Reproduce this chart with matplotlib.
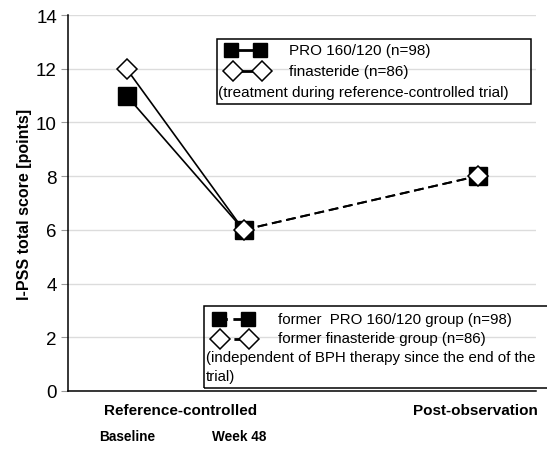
import matplotlib.pyplot as plt
from matplotlib.lines import Line2D
from matplotlib.patches import Rectangle
from matplotlib.transforms import blended_transform_factory

plt.rcParams['font.family'] = ['Liberation Sans', 'DejaVu Sans']

# time points: baseline, week 48, post-observation
x_trial = [0, 1]
x_post = [1, 3]
pro_trial = [11, 6]
fin_trial = [12, 6]
pro_post = [6, 8]
fin_post = [6, 8]

time_labels = ['Baseline', 'Week 48']
time_x = [0.01, 0.96]
phase_labels = ['Reference-controlled', 'Post-observation']
phase_x = [0.46, 2.98]

W, H = 547, 452
fig = plt.figure(figsize=(W / 100, H / 100), dpi=100)
ax = fig.add_axes([68 / W, 1 - 392 / H, 468 / W, 376 / H])

ax.set_xlim(-0.5, 3.5)
ax.set_ylim(0, 14)
ax.set_yticks(range(0, 15, 2))
ax.tick_params(axis='y', labelsize=13.5, length=5, color='#999999', pad=3)
ax.set_xticks([])
ax.grid(axis='y', color='#dcdcdc', lw=1)
ax.set_axisbelow(True)
for s in ['top', 'right']:
    ax.spines[s].set_visible(False)
ax.spines['left'].set_linewidth(1.1)
ax.spines['bottom'].set_linewidth(1.1)
ax.set_ylabel('I-PSS total score [points]', fontsize=11.5, fontweight='bold', labelpad=3)

# lines
ax.plot(x_trial, pro_trial, color='black', lw=1.2, zorder=3)
ax.plot(x_trial, fin_trial, color='black', lw=1.2, zorder=3)
ax.plot(x_post, pro_post, color='black', lw=1.4, ls=(0, (5, 2.5)), zorder=3)
ax.plot(x_post, fin_post, color='black', lw=1.4, ls=(0, (5, 2.5)), zorder=3)
# markers
ax.plot(x_trial + x_post[1:], pro_trial + pro_post[1:], ls='none', marker='s',
        ms=12.5, mfc='black', mec='black', zorder=4)
ax.plot(x_trial + x_post[1:], fin_trial + fin_post[1:], ls='none', marker='D',
        ms=10, mfc='white', mec='black', mew=1.1, zorder=5)

# category labels under the axis
tr = blended_transform_factory(ax.transData, fig.transFigure)
for lab, xv in zip(phase_labels, phase_x):
    ax.text(xv, 1 - 411 / H, lab, transform=tr, ha='center', va='center',
            fontsize=11, fontweight='bold')
for lab, xv in zip(time_labels, time_x):
    ax.text(xv, 1 - 437 / H, lab, transform=tr, ha='center', va='center',
            fontsize=9.8, fontweight='bold')


# legend boxes drawn in figure pixels
def fx(px):
    return px / W


def fy(py):
    return 1 - py / H


ft = fig.transFigure
fig.patches.append(Rectangle((fx(217), fy(105)), fx(531) - fx(217), fy(40) - fy(105),
                             transform=ft, fill=False, ec='black', lw=1.1))
fig.lines.append(Line2D([fx(231), fx(260)], [fy(51), fy(51)], transform=ft, color='black',
                        lw=2, marker='s', ms=10.5, mfc='black', mec='black'))
fig.lines.append(Line2D([fx(233), fx(262)], [fy(72), fy(72)], transform=ft, color='black',
                        lw=2, marker='D', ms=10, mfc='white', mec='black', mew=1.1))
fig.text(fx(289), fy(51), 'PRO 160/120 (n=98)', fontsize=11, va='center')
fig.text(fx(289), fy(72), 'finasteride (n=86)', fontsize=11, va='center')
fig.text(fx(218), fy(93), '(treatment during reference-controlled trial)', fontsize=11,
         va='center')

fig.patches.append(Rectangle((fx(204), fy(389)), fx(560) - fx(204), fy(307) - fy(389),
                             transform=ft, fill=False, ec='black', lw=1.1))
fig.lines.append(Line2D([fx(219), fx(248)], [fy(320), fy(320)], transform=ft, color='black',
                        lw=2, ls=(0, (3, 2)), marker='s', ms=10.5, mfc='black', mec='black'))
fig.lines.append(Line2D([fx(220), fx(249)], [fy(340), fy(340)], transform=ft, color='black',
                        lw=2, ls=(0, (3, 2)), marker='D', ms=10, mfc='white', mec='black',
                        mew=1.1))
fig.text(fx(278), fy(320), 'former  PRO 160/120 group (n=98)', fontsize=10.8, va='center')
fig.text(fx(278), fy(339), 'former finasteride group (n=86)', fontsize=10.8, va='center')
fig.text(fx(206), fy(358), '(independent of BPH therapy since the end of the', fontsize=10.8,
         va='center')
fig.text(fx(206), fy(377), 'trial)', fontsize=10.8, va='center')

fig.savefig('out.png', dpi=100)
